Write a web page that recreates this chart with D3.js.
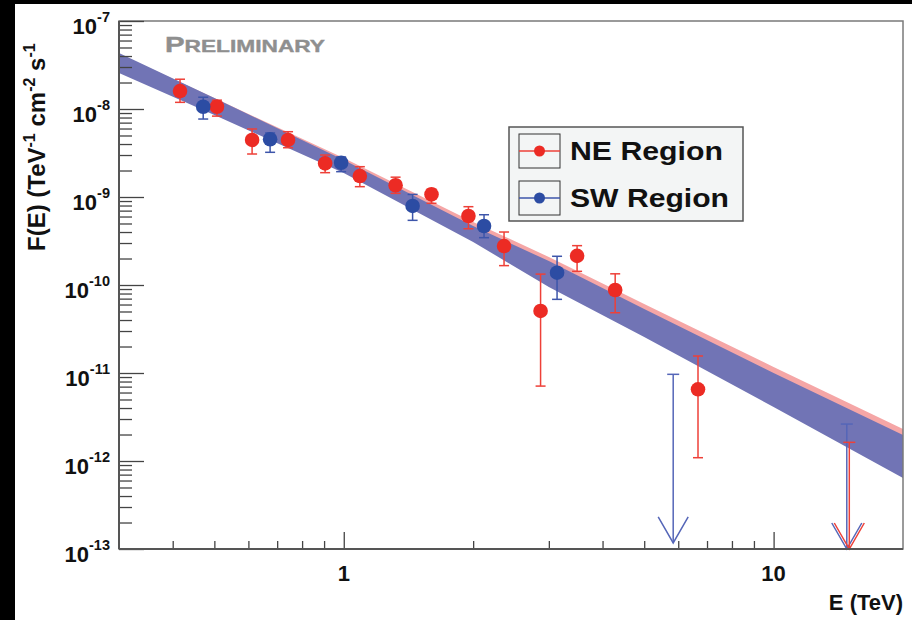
<!DOCTYPE html>
<html>
<head>
<meta charset="utf-8">
<script src="https://cdn.jsdelivr.net/npm/d3@7/dist/d3.min.js"></script>
<style>
  body { margin: 0; background: #000; }
  svg { display: block; }
  text { font-family: "Liberation Sans", Arial, Helvetica, sans-serif; font-weight: bold; }
</style>
</head>
<body>
<script>
// NE region spectral points (TeV, TeV^-1 cm^-2 s^-1)
const neEnergy = [0.416, 0.507, 0.612, 0.742, 0.905, 1.09, 1.32, 1.60, 1.95, 2.36, 2.87, 3.49, 4.28, 6.67];
const neFlux   = [1.60e-8, 1.06e-8, 4.45e-9, 4.45e-9, 2.41e-9, 1.73e-9, 1.36e-9, 1.07e-9, 6.08e-10, 2.77e-10, 5.07e-11, 2.14e-10, 8.77e-11, 6.53e-12];
const neFluxHi = [2.18e-8, 1.26e-8, 5.93e-9, 5.52e-9, 3.00e-9, 2.21e-9, 1.68e-9, 1.23e-9, 7.76e-10, 4.00e-10, 1.33e-10, 2.80e-10, 1.34e-10, 1.56e-11];
const neFluxLo = [1.19e-8, 8.30e-9, 3.08e-9, 3.63e-9, 1.89e-9, 1.31e-9, 1.10e-9, 8.48e-10, 4.36e-10, 1.66e-10, 7.10e-12, 1.43e-10, 4.84e-11, 1.09e-12];
const neLimitEnergy = [15.0];
const neLimitFlux   = [1.63e-12];
const neLimitTip    = [1.0e-13];

// SW region spectral points
const swEnergy = [0.471, 0.674, 0.986, 1.446, 2.12, 3.135];
const swFlux   = [1.06e-8, 4.53e-9, 2.45e-9, 7.91e-10, 4.68e-10, 1.38e-10];
const swFluxHi = [1.36e-8, 5.34e-9, 2.85e-9, 1.07e-9, 6.29e-10, 2.12e-10];
const swFluxLo = [7.69e-9, 3.22e-9, 1.94e-9, 5.43e-10, 3.45e-10, 6.87e-11];
const swLimitEnergy = [5.84, 14.8];
const swLimitFlux   = [9.66e-12, 2.63e-12];
const swLimitTip    = [1.17e-13, 1.0e-13];

// Power-law fit confidence bands
const bandEnergy = [0.3, 0.5, 1, 2, 3, 5, 10, 20];
const neBandHi = [4.22e-8, 1.33e-8, 2.77e-9, 5.20e-10, 2.08e-10, 6.08e-11, 1.17e-11, 2.31e-12];
const neBandLo = [2.77e-8, 9.49e-9, 2.03e-9, 3.61e-10, 1.20e-10, 3.51e-11, 6.41e-12, 1.17e-12];
const swBandHi = [4.33e-8, 1.33e-8, 2.63e-9, 4.68e-10, 1.87e-10, 5.34e-11, 1.00e-11, 1.97e-12];
const swBandLo = [2.56e-8, 8.55e-9, 1.87e-9, 3.08e-10, 9.49e-11, 2.56e-11, 4.11e-12, 6.41e-13];

// Axis ticks
const yMajor = [1e-13, 1e-12, 1e-11, 1e-10, 1e-9, 1e-8, 1e-7];
const yExponents = ["-13", "-12", "-11", "-10", "-9", "-8", "-7"];
const xMajor = [1, 10];
const xMajorLabels = ["1", "10"];
const xMinor = [0.4, 0.5, 0.6, 0.7, 0.8, 0.9, 2, 3, 4, 5, 6, 7, 8, 9];
const seriesNames = ["NE Region", "SW Region"];

const W = 912, H = 620;
const m = { left: 119, right: 903, top: 21, bottom: 549 };
const red = "#ec2b24", redBar = "#ee4038", blue = "#2c4ca3", blueBar = "#3d55aa", blueLim = "#5566b8";

const svg = d3.select("body").append("svg").attr("width", W).attr("height", H);
svg.append("rect").attr("x", 15).attr("y", 4).attr("width", W - 15).attr("height", H - 4).attr("fill", "#fff");

const x = d3.scaleLog().domain([0.3, 20]).range([m.left, m.right]);
const y = d3.scaleLog().domain([1e-13, 1e-7]).range([m.bottom, m.top]);

svg.append("clipPath").attr("id", "plot")
  .append("rect").attr("x", m.left).attr("y", m.top)
  .attr("width", m.right - m.left).attr("height", m.bottom - m.top);

const g = svg.append("g");

// confidence bands
const band = (lo, hi) => d3.area()
  .x((d, i) => x(bandEnergy[i]))
  .y0((d, i) => y(lo[i]))
  .y1((d, i) => y(hi[i]))(bandEnergy);
g.append("path").attr("clip-path", "url(#plot)").attr("d", band(neBandLo, neBandHi)).attr("fill", "#f5a6a6");
g.append("path").attr("clip-path", "url(#plot)").attr("d", band(swBandLo, swBandHi)).attr("fill", "#7174b5");

// frame
svg.append("rect").attr("x", m.left).attr("y", m.top)
  .attr("width", m.right - m.left).attr("height", m.bottom - m.top)
  .attr("fill", "none").attr("stroke", "#7a7a7a").attr("stroke-width", 1.5);

// y axis ticks (inside)
const yMinor = [];
for (let k = 0; k < yMajor.length - 1; k++) for (let j = 2; j <= 9; j++) yMinor.push(yMajor[k] * j);
const yAxisMajor = d3.axisLeft(y).tickValues(yMajor).tickSize(-25).tickFormat("");
const yAxisMinor = d3.axisLeft(y).tickValues(yMinor).tickSize(-13).tickFormat("");
[yAxisMajor, yAxisMinor].forEach(ax => {
  const a = svg.append("g").attr("transform", `translate(${m.left},0)`).call(ax);
  a.select(".domain").remove();
  a.selectAll("line").attr("stroke", "#444").attr("stroke-width", 1.3);
});
svg.append("line").attr("x1", m.left).attr("x2", m.left).attr("y1", m.top).attr("y2", m.bottom)
  .attr("stroke", "#555").attr("stroke-width", 2);

// x axis ticks (inside)
const xAxisMajor = d3.axisBottom(x).tickValues(xMajor).tickSize(-17).tickFormat("");
const xAxisMinor = d3.axisBottom(x).tickValues(xMinor).tickSize(-8).tickFormat("");
[xAxisMajor, xAxisMinor].forEach(ax => {
  const a = svg.append("g").attr("transform", `translate(0,${m.bottom})`).call(ax);
  a.select(".domain").remove();
  a.selectAll("line").attr("stroke", "#444").attr("stroke-width", 1.3);
});
svg.append("line").attr("x1", m.left).attr("x2", m.right).attr("y1", m.bottom).attr("y2", m.bottom)
  .attr("stroke", "#555").attr("stroke-width", 2);

// y tick labels 10^n
yMajor.forEach((v, i) => {
  const t = svg.append("text").attr("x", 110).attr("y", y(v) + 13)
    .attr("text-anchor", "end").attr("font-size", 22).attr("fill", "#111");
  t.append("tspan").text("10");
  t.append("tspan").attr("font-size", 14.5).attr("dy", -12).text(yExponents[i]);
});

// x tick labels
xMajor.forEach((v, i) => {
  svg.append("text").attr("x", x(v)).attr("y", 581).attr("text-anchor", "middle")
    .attr("font-size", 22).attr("fill", "#111").text(xMajorLabels[i]);
});

// axis titles
svg.append("text").attr("x", 903).attr("y", 610).attr("text-anchor", "end")
  .attr("font-size", 22).attr("fill", "#111").text("E (TeV)");

const yt = svg.append("text").attr("transform", "translate(45,251) rotate(-90)")
  .attr("font-size", 24).attr("fill", "#111");
yt.append("tspan").text("F(E) (TeV");
yt.append("tspan").attr("font-size", 16).attr("dy", -10).text("-1");
yt.append("tspan").attr("dy", 10).text(" cm");
yt.append("tspan").attr("font-size", 16).attr("dy", -10).text("-2");
yt.append("tspan").attr("dy", 10).text(" s");
yt.append("tspan").attr("font-size", 16).attr("dy", -10).text("-1");

// preliminary tag
const pre = svg.append("text").attr("x", 165).attr("y", 52).attr("fill", "#8f8f8f")
  .attr("stroke", "#8f8f8f").attr("stroke-width", 0.4)
  .attr("textLength", 160).attr("lengthAdjust", "spacingAndGlyphs");
pre.append("tspan").attr("font-size", 22).text("P");
pre.append("tspan").attr("font-size", 17).text("RELIMINARY");

// data points with error bars
function drawSeries(E, F, lo, hi, barColor, color) {
  const s = g.append("g");
  E.forEach((e, i) => {
    const cx = x(e);
    s.append("line").attr("x1", cx).attr("x2", cx).attr("y1", y(hi[i])).attr("y2", y(lo[i]))
      .attr("stroke", barColor).attr("stroke-width", 1.5);
    [hi[i], lo[i]].forEach(v => s.append("line").attr("x1", cx - 5).attr("x2", cx + 5)
      .attr("y1", y(v)).attr("y2", y(v)).attr("stroke", barColor).attr("stroke-width", 1.5));
  });
  s.selectAll("circle").data(E).enter().append("circle")
    .attr("cx", d => x(d)).attr("cy", (d, i) => y(F[i])).attr("r", 7.3).attr("fill", color);
}
function drawLimits(E, F, tip, color) {
  const s = g.append("g");
  E.forEach((e, i) => {
    const cx = x(e), top = y(F[i]), ty = y(tip[i]);
    s.append("line").attr("x1", cx).attr("x2", cx).attr("y1", top).attr("y2", ty)
      .attr("stroke", color).attr("stroke-width", 1.5);
    s.append("line").attr("x1", cx - 6).attr("x2", cx + 6).attr("y1", top).attr("y2", top)
      .attr("stroke", color).attr("stroke-width", 1.5);
    s.append("path").attr("d", `M${cx - 15},${ty - 26}L${cx},${ty}L${cx + 15},${ty - 26}`)
      .attr("fill", "none").attr("stroke", color).attr("stroke-width", 1.5);
  });
}
drawLimits(swLimitEnergy, swLimitFlux, swLimitTip, blueLim);
drawLimits(neLimitEnergy, neLimitFlux, neLimitTip, redBar);
drawSeries(neEnergy, neFlux, neFluxLo, neFluxHi, redBar, red);
drawSeries(swEnergy, swFlux, swFluxLo, swFluxHi, blueBar, blue);

// legend
const lg = svg.append("g");
lg.append("rect").attr("x", 509).attr("y", 127).attr("width", 234).attr("height", 94)
  .attr("fill", "#f3f5f5").attr("stroke", "#555").attr("stroke-width", 1.5);
const legendColors = [[redBar, red], [blueBar, blue]];
const legendWidths = [153, 159];
seriesNames.forEach((name, i) => {
  const cy = 151 + i * 47;
  lg.append("rect").attr("x", 519).attr("y", cy - 17).attr("width", 41).attr("height", 34)
    .attr("fill", "none").attr("stroke", "#333").attr("stroke-width", 1);
  lg.append("line").attr("x1", 519).attr("x2", 560).attr("y1", cy).attr("y2", cy)
    .attr("stroke", legendColors[i][0]).attr("stroke-width", 1.5);
  lg.append("circle").attr("cx", 539.5).attr("cy", cy).attr("r", 5.5).attr("fill", legendColors[i][1]);
  lg.append("text").attr("x", 570).attr("y", cy + 9).attr("font-size", 25).attr("fill", "#111")
    .attr("textLength", legendWidths[i]).attr("lengthAdjust", "spacingAndGlyphs").text(name);
});
</script>
</body>
</html>
